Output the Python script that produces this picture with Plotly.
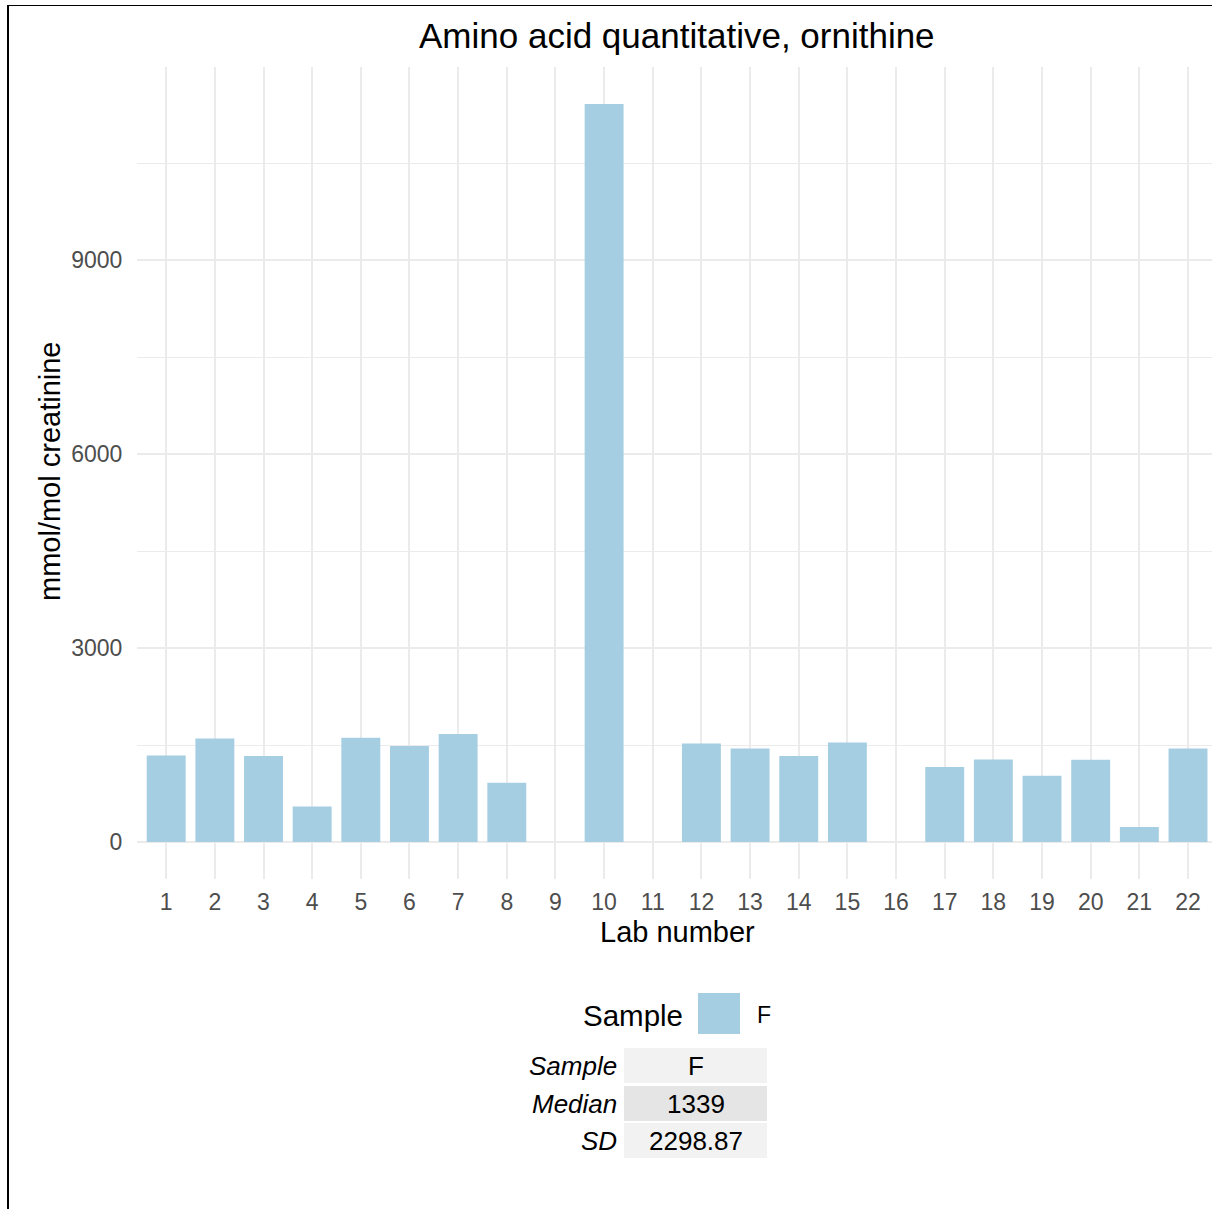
import plotly.graph_objects as go

# ---- data ----
labs = [1, 2, 3, 4, 5, 6, 7, 8, 10, 12, 13, 14, 15, 17, 18, 19, 20, 21, 22]
values = [1339, 1604, 1330, 552, 1614, 1485, 1670, 918, 11418, 1526, 1449, 1332, 1542,
          1160, 1279, 1027, 1274, 232, 1449]
tick_labels = [str(i) for i in range(1, 23)]
y_ticks = [0, 3000, 6000, 9000]
y_minor = [1500, 4500, 7500, 10500]
sample_name = "F"
table_rows = ["Sample", "Median", "SD"]
table_vals = ["F", "1339", "2298.87"]

BAR_COLOR = "#a6cee3"
GRID = "#ebebeb"
FONT = "Liberation Sans, Arial, sans-serif"

W, H = 1212, 1209
L, R, T, B = 137, 0, 67, 330
PW, PH = W - L - R, H - T - B


def px(x):
    return (x - L) / PW


def py(y):
    return (H - B - y) / PH


fig = go.Figure()
fig.add_trace(go.Bar(
    x=labs, y=values, width=0.8,
    marker=dict(color=BAR_COLOR, line=dict(width=0)),
    showlegend=False,
))

ymax = max(values) * 1.05
ymin = -max(values) * 0.05
step = 1022 / 21
xmax = 22 + (W - 1188) / step

fig.update_xaxes(
    range=[0.4, xmax],
    tickmode="array", tickvals=list(range(1, 23)), ticktext=tick_labels,
    showgrid=True, gridcolor=GRID, gridwidth=2,
    zeroline=False, showline=False,
    ticks="outside", ticklen=2, tickcolor="rgba(0,0,0,0)",
    tickfont=dict(family=FONT, size=23, color="#4d4d4d"),
)
fig.update_yaxes(
    range=[ymin, ymax],
    tickmode="array", tickvals=y_ticks, ticktext=[str(v) for v in y_ticks],
    showgrid=True, gridcolor=GRID, gridwidth=2,
    minor=dict(tickvals=y_minor, showgrid=True, gridcolor=GRID, gridwidth=1, ticks=""),
    zeroline=False, showline=False,
    ticks="outside", ticklen=9, tickcolor="rgba(0,0,0,0)",
    tickfont=dict(family=FONT, size=23, color="#4d4d4d"),
)

ann = []
# title
ann.append(dict(text="Amino acid quantitative, ornithine", x=px(677), y=py(35),
                xref="paper", yref="paper", showarrow=False, xanchor="center", yanchor="middle",
                font=dict(family=FONT, size=35, color="black")))
# axis titles
ann.append(dict(text="Lab number", x=px(677), y=py(932), xref="paper", yref="paper",
                showarrow=False, xanchor="center", yanchor="middle",
                font=dict(family=FONT, size=29, color="black")))
ann.append(dict(text="mmol/mol creatinine", x=px(50), y=py(472), xref="paper", yref="paper",
                showarrow=False, xanchor="center", yanchor="middle", textangle=-90,
                font=dict(family=FONT, size=29, color="black")))
# legend
ann.append(dict(text="Sample", x=px(685), y=py(1015), xref="paper", yref="paper",
                showarrow=False, xanchor="right", yanchor="middle",
                font=dict(family=FONT, size=29.5, color="black")))
ann.append(dict(text=sample_name, x=px(755), y=py(1015), xref="paper", yref="paper",
                showarrow=False, xanchor="left", yanchor="middle",
                font=dict(family=FONT, size=23, color="black")))

shapes = []
shapes.append(dict(type="rect", xref="paper", yref="paper",
                   x0=px(698), x1=px(740), y0=py(993), y1=py(1034),
                   fillcolor=BAR_COLOR, line=dict(width=0)))

# table
row_tops = [1048, 1086, 1123]
row_bots = [1083, 1121, 1158]
fills = ["#f2f2f2", "#e5e5e5", "#f2f2f2"]
for lab, val, t, b, f in zip(table_rows, table_vals, row_tops, row_bots, fills):
    shapes.append(dict(type="rect", xref="paper", yref="paper",
                       x0=px(624), x1=px(767), y0=py(b), y1=py(t),
                       fillcolor=f, line=dict(width=0), layer="below"))
    cy = (t + b) / 2
    ann.append(dict(text="<i>" + lab + "</i>", x=px(618.5), y=py(cy), xref="paper", yref="paper",
                    showarrow=False, xanchor="right", yanchor="middle",
                    font=dict(family=FONT, size=26, color="black")))
    ann.append(dict(text=val, x=px(695.5), y=py(cy), xref="paper", yref="paper",
                    showarrow=False, xanchor="center", yanchor="middle",
                    font=dict(family=FONT, size=26, color="black")))

# outer frame lines
shapes.append(dict(type="line", xref="paper", yref="paper",
                   x0=px(7), x1=px(W), y0=py(5.5), y1=py(5.5),
                   line=dict(color="black", width=1)))
shapes.append(dict(type="line", xref="paper", yref="paper",
                   x0=px(8), x1=px(8), y0=py(5), y1=py(H),
                   line=dict(color="black", width=2)))

fig.update_layout(
    width=W, height=H,
    margin=dict(l=L, r=R, t=T, b=B, pad=0),
    plot_bgcolor="white", paper_bgcolor="white",
    annotations=ann, shapes=shapes,
    showlegend=False,
    font=dict(family=FONT),
)

fig.write_html(
    "out.html",
    config={"displayModeBar": False},
    post_script="document.body.style.margin='0';document.body.style.overflow='hidden';",
)
